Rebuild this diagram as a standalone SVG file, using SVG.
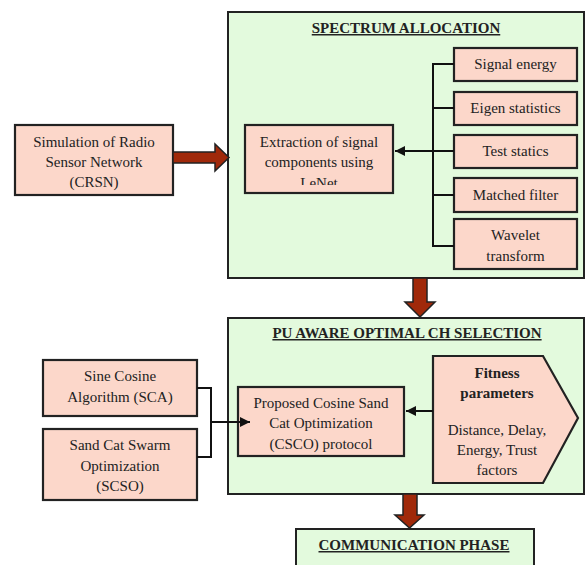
<svg xmlns="http://www.w3.org/2000/svg" width="585" height="565" viewBox="0 0 585 565">
<style>
.phase{fill:#e3fadd;stroke:#222;stroke-width:2}
.box{fill:#fcd7ca;stroke:#222;stroke-width:2.2}
.t{font-family:'Liberation Serif','DejaVu Serif','Times New Roman',serif;font-size:15px;fill:#222;text-anchor:middle}
.h{font-family:'Liberation Serif','DejaVu Serif','Times New Roman',serif;font-size:15px;font-weight:bold;fill:#222;text-anchor:middle;text-decoration:underline}
.b{font-weight:bold}
.ln{fill:none;stroke:#111;stroke-width:2}
.big{fill:#a0290a;stroke:#222;stroke-width:1.5;stroke-linejoin:miter}
</style>
<defs>
<marker id="ah" viewBox="0 0 10 10" refX="10" refY="5" markerWidth="5" markerHeight="5" orient="auto" markerUnits="strokeWidth">
<path d="M0,0 L10,5 L0,10 z" fill="#111"/>
</marker>
<clipPath id="clipLe"><rect x="245" y="125" width="148" height="60"/></clipPath>
</defs>

<g id="spectrum-allocation">
<rect class="phase" x="228" y="12" width="356" height="266"/>
<text class="h" x="406" y="33" font-family="Liberation Serif, serif">SPECTRUM ALLOCATION</text>
</g>
<g id="pu-aware">
<rect class="phase" x="228" y="318" width="356" height="176"/>
<text class="h" x="407" y="338">PU AWARE OPTIMAL CH SELECTION</text>
</g>
<g id="communication">
<rect class="phase" x="296" y="529" width="238" height="50"/>
<text class="h" x="414" y="550">COMMUNICATION PHASE</text>
</g>

<g id="simulation">
<rect class="box" x="15" y="125" width="158" height="70"/>
<text class="t" x="94" y="147">Simulation of Radio</text>
<text class="t" x="94" y="167">Sensor Network</text>
<text class="t" x="94" y="187">(CRSN)</text>
</g>
<g id="extraction">
<rect class="box" x="245" y="125" width="148" height="68"/>
<g clip-path="url(#clipLe)">
<text class="t" x="319" y="147">Extraction of signal</text>
<text class="t" x="319" y="167">components using</text>
<text class="t" x="319" y="188">LeNet</text>
</g>
</g>
<g id="signal-energy">
<rect class="box" x="454" y="48" width="123" height="33"/>
<text class="t" x="515.5" y="69">Signal energy</text>
</g>
<g id="eigen-statistics">
<rect class="box" x="454" y="92" width="123" height="33"/>
<text class="t" x="515.5" y="113">Eigen statistics</text>
</g>
<g id="test-statics">
<rect class="box" x="454" y="135" width="123" height="33"/>
<text class="t" x="515.5" y="156">Test statics</text>
</g>
<g id="matched-filter">
<rect class="box" x="454" y="178" width="123" height="34"/>
<text class="t" x="515.5" y="200">Matched filter</text>
</g>
<g id="wavelet-transform">
<rect class="box" x="454" y="219" width="123" height="50"/>
<text class="t" x="515.5" y="240">Wavelet</text>
<text class="t" x="515.5" y="261">transform</text>
</g>

<g id="sca">
<rect class="box" x="43" y="360" width="154" height="56"/>
<text class="t" x="120" y="381">Sine Cosine</text>
<text class="t" x="120" y="402">Algorithm (SCA)</text>
</g>
<g id="scso">
<rect class="box" x="43" y="429" width="154" height="71"/>
<text class="t" x="120" y="450">Sand Cat Swarm</text>
<text class="t" x="120" y="471">Optimization</text>
<text class="t" x="120" y="491">(SCSO)</text>
</g>
<g id="csco">
<rect class="box" x="238" y="387" width="166" height="69"/>
<text class="t" x="321" y="408">Proposed Cosine Sand</text>
<text class="t" x="321" y="428">Cat Optimization</text>
<text class="t" x="321" y="449">(CSCO) protocol</text>
</g>
<g id="fitness">
<polygon class="box" points="433,356 543,356 578,418 543,483 433,483"/>
<text class="t b" x="497" y="378">Fitness</text>
<text class="t b" x="497" y="398">parameters</text>
<text class="t" x="497" y="435">Distance, Delay,</text>
<text class="t" x="497" y="455">Energy, Trust</text>
<text class="t" x="497" y="475">factors</text>
</g>

<g id="connectors">
<polygon class="big" points="173,152 215,152 215,144 229,157.5 215,171 215,163 173,163"/>
<polygon class="big" points="413,278 427,278 427,302 435,302 420,317 405,302 413,302"/>
<polygon class="big" points="403,494 417,494 417,515 424,515 409.5,528 395,515 403,515"/>
<path class="ln" d="M454,64 H433 V246 H454 M433,108 H454 M433,195 H454"/>
<path class="ln" d="M454,151 H395" marker-end="url(#ah)"/>
<path class="ln" d="M197,388 H211 V457 H197"/>
<path class="ln" d="M211,422 H250" marker-end="url(#ah)"/>
<path class="ln" d="M433,411 H406" marker-end="url(#ah)"/>
</g>
</svg>
